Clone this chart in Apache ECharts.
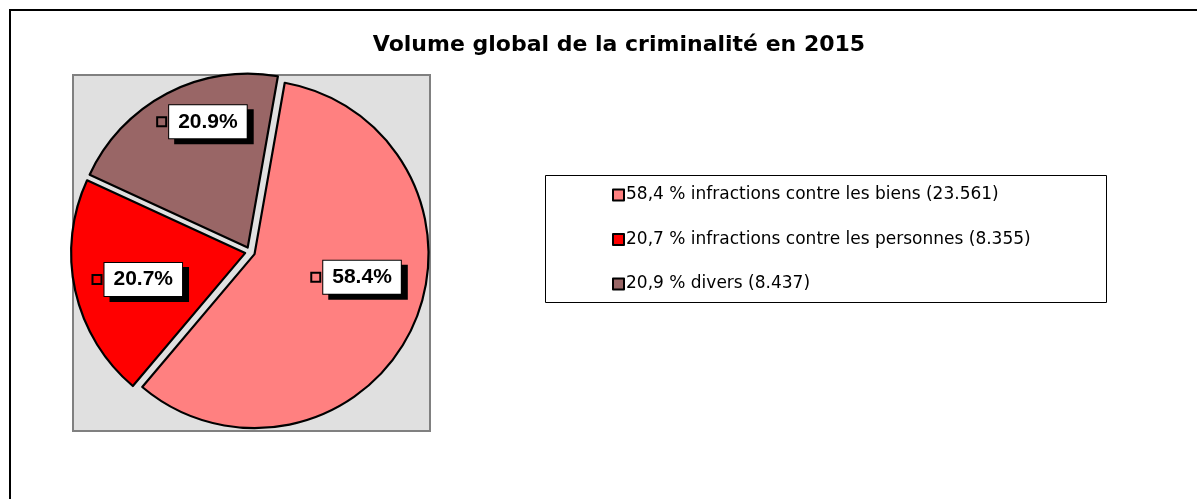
<!DOCTYPE html>
<html>
<head>
<meta charset="utf-8">
<script src="https://cdn.jsdelivr.net/npm/echarts@6/dist/echarts.min.js"></script>
<style>
html, body { margin: 0; padding: 0; background: #fff; }
#main { width: 1197px; height: 499px; }
</style>
</head>
<body>
<div id="main"></div>
<script>
// valeurs du graphique
var categories = [
	'58,4 % infractions contre les biens (23.561)',
	'20,7 % infractions contre les personnes (8.355)',
	'20,9 % divers (8.437)'
];
var counts = [23561, 8355, 8437];
var colors = ['#FF8080', '#FF0000', '#996666'];

// decalage des etiquettes (Excel les place un peu a part)
var labelShift = [[20, -15], [-20, 7], [-4, -46]];

var chart = echarts.init(document.getElementById('main'));

var data = [];
for (var i = 0; i < categories.length; i++) {
	data.push({
		name: categories[i],
		value: counts[i],
		selected: true,
		itemStyle: { color: colors[i] }
	});
}

var option = {
	animation: false,
	backgroundColor: '#fff',
	title: {
		text: 'Volume global de la criminalité en 2015',
		left: 619,
		top: 34,
		padding: 0,
		textAlign: 'center',
		textStyle: { fontFamily: 'DejaVu Sans', fontWeight: 'bold', fontSize: 22, color: '#000' }
	},
	graphic: [
		{ type: 'rect', shape: { x: 10, y: 10, width: 1210, height: 520 }, style: { fill: '#fff', stroke: '#000', lineWidth: 2 }, z: -10 },
		{ type: 'rect', shape: { x: 73, y: 75, width: 357, height: 356 }, style: { fill: '#E0E0E0', stroke: '#808080', lineWidth: 2 }, z: -5 },
		{ type: 'rect', shape: { x: 545.5, y: 175.5, width: 561, height: 127 }, style: { fill: '#fff', stroke: '#000', lineWidth: 1 }, z: -5 }
	],
	legend: {
		orient: 'vertical',
		left: 612,
		top: 185,
		padding: 0,
		itemGap: 24.5,
		itemWidth: 11,
		itemHeight: 11,
		icon: 'rect',
		selectedMode: false,
		itemStyle: { borderColor: '#000', borderWidth: 2 },
		textStyle: { fontFamily: 'DejaVu Sans', fontSize: 17, color: '#000', lineHeight: 20, padding: [0, 0, 0, -3] },
		data: categories
	},
	series: [{
		type: 'pie',
		center: [250, 252],
		radius: 174,
		startAngle: 80,
		clockwise: true,
		selectedMode: 'multiple',
		selectedOffset: 5,
		percentPrecision: 1,
		avoidLabelOverlap: false,
		itemStyle: { borderColor: '#000', borderWidth: 2.2 },
		select: { itemStyle: { borderColor: '#000', borderWidth: 2.2 } },
		emphasis: { disabled: true },
		label: {
			show: true,
			position: 'inside',
			formatter: function (p) { return '{k|}{s|}{v|' + p.percent.toFixed(1) + '%}'; },
			rich: {
				k: { width: 9, height: 9, borderColor: '#000', borderWidth: 2 },
				s: { width: 3 },
				v: {
					fontFamily: 'Liberation Sans',
					fontWeight: 'bold',
					fontSize: 21,
					lineHeight: 21,
					color: '#000',
					backgroundColor: '#fff',
					borderColor: '#000',
					borderWidth: 1,
					padding: [6, 9, 6, 9],
					shadowColor: '#000',
					shadowBlur: 0,
					shadowOffsetX: 6,
					shadowOffsetY: 5
				}
			}
		},
		labelLine: { show: false },
		labelLayout: function (p) {
			return { dx: labelShift[p.dataIndex][0], dy: labelShift[p.dataIndex][1] };
		},
		data: data
	}]
};

chart.setOption(option);
</script>
</body>
</html>
